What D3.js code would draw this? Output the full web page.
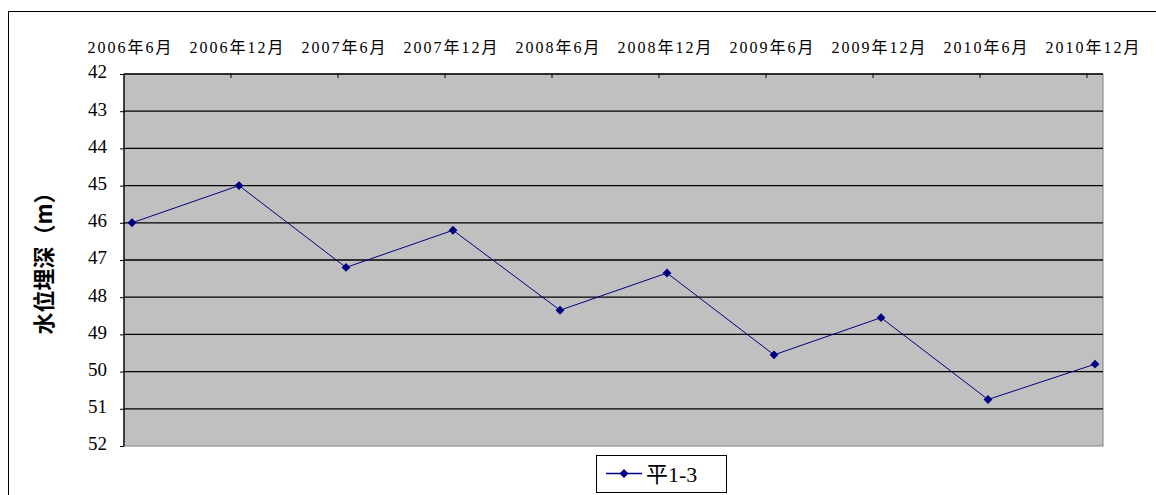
<!DOCTYPE html>
<html>
<head>
<meta charset="utf-8">
<script src="https://cdn.jsdelivr.net/npm/d3@7"></script>
<style>
  body { margin:0; background:#fff; }
  svg { display:block; }
</style>
</head>
<body>
<div id="chart"></div>
<script>
const categories = ["2006年6月","2006年12月","2007年6月","2007年12月","2008年6月","2008年12月","2009年6月","2009年12月","2010年6月","2010年12月"];
const depth = [46.0, 45.0, 47.2, 46.2, 48.35, 47.35, 49.55, 48.55, 50.75, 49.8];
const yTicks = [42,43,44,45,46,47,48,49,50,51,52];
const seriesName = "平1-3";

let width = 1156, height = 495,
    plot = { left:124, top:74, right:1103, bottom:446 },
    serifFont = "'Liberation Serif','Noto Sans CJK SC',serif";

let svg = d3.select("#chart").append("svg").attr("width",width).attr("height",height);

// outer chart border
svg.append("rect").attr("x",8.5).attr("y",11.5).attr("width",width+10).attr("height",height+10)
   .attr("fill","none").attr("stroke","#000").attr("stroke-width",1);

let xScale = d3.scalePoint().domain(categories).range([132,1095]);
let yScale = d3.scaleLinear().domain([42,52]).range([plot.top,plot.bottom]);

// plot area
svg.append("rect").attr("x",plot.left).attr("y",plot.top)
   .attr("width",plot.right-plot.left).attr("height",plot.bottom-plot.top)
   .attr("fill","#c0c0c0").attr("stroke","#808080").attr("stroke-width",1);

// gridlines
svg.append("g").selectAll("line").data(yTicks.slice(1,-1)).enter().append("line")
   .attr("x1",plot.left).attr("x2",plot.right)
   .attr("y1",d=>yScale(d)).attr("y2",d=>yScale(d))
   .attr("stroke","#000").attr("stroke-width",1.3);

// top axis line + ticks (between categories)
svg.append("line").attr("x1",plot.left).attr("x2",plot.right).attr("y1",plot.top).attr("y2",plot.top)
   .attr("stroke","#000").attr("stroke-width",1.3);
svg.append("g").selectAll("line").data(categories.slice(1)).enter().append("line")
   .attr("x1",d=>xScale(d)-8).attr("x2",d=>xScale(d)-8)
   .attr("y1",plot.top).attr("y2",plot.top+4)
   .attr("stroke","#000");

// left axis line
svg.append("line").attr("x1",plot.left).attr("x2",plot.left).attr("y1",plot.top).attr("y2",plot.bottom)
   .attr("stroke","#000").attr("stroke-width",1.3);

// y axis labels
let yAxis = d3.axisLeft(yScale).tickValues(yTicks).tickSize(4).tickPadding(13).tickFormat(d3.format("d"));
let yGroup = svg.append("g").attr("transform",`translate(${plot.left},0)`).call(yAxis)
   .attr("font-family",serifFont).attr("font-size",19);
yGroup.select(".domain").remove();
yGroup.selectAll(".tick line").attr("stroke","#000");
yGroup.selectAll("text").attr("fill","#000").attr("dy","0.2em");

// category labels along the top
let xAxis = d3.axisTop(xScale).tickSize(0).tickPadding(0);
let xGroup = svg.append("g").attr("transform","translate(-2,53)").call(xAxis)
   .attr("font-family",serifFont).attr("font-size",16);
xGroup.select(".domain").remove();
xGroup.selectAll("text").attr("fill","#000").attr("dy","0").style("letter-spacing","2px");

// axis title
svg.append("text").attr("transform","translate(46,258) rotate(-90)")
   .attr("text-anchor","middle").attr("dominant-baseline","middle")
   .style("font-family","'Noto Sans CJK SC',sans-serif").style("font-size","22px").style("font-weight","bold")
   .text("水位埋深（m）");

// series line
let line = d3.line().x((d,i)=>xScale(categories[i])).y(d=>yScale(d));
svg.append("path").attr("d",line(depth)).attr("fill","none").attr("stroke","#000080").attr("stroke-width",1);

let diamond = d3.symbol().type(d3.symbolDiamond2).size(50);
svg.append("g").selectAll("path").data(depth).enter().append("path")
   .attr("d",diamond)
   .attr("transform",(d,i)=>`translate(${xScale(categories[i])},${yScale(d)})`)
   .attr("fill","#000080");

// legend
let lg = svg.append("g").attr("transform","translate(596,455)");
lg.append("rect").attr("x",0.5).attr("y",0.5).attr("width",130).attr("height",37)
  .attr("fill","#fff").attr("stroke","#000");
lg.append("line").attr("x1",10).attr("x2",46).attr("y1",18.5).attr("y2",18.5).attr("stroke","#000080").attr("stroke-width",1.5);
lg.append("path").attr("d",diamond).attr("transform","translate(28,18.5)").attr("fill","#000080");
lg.append("text").attr("x",50).attr("y",27).style("font-family",serifFont)
  .style("font-size","22px").text(seriesName);
</script>
</body>
</html>
